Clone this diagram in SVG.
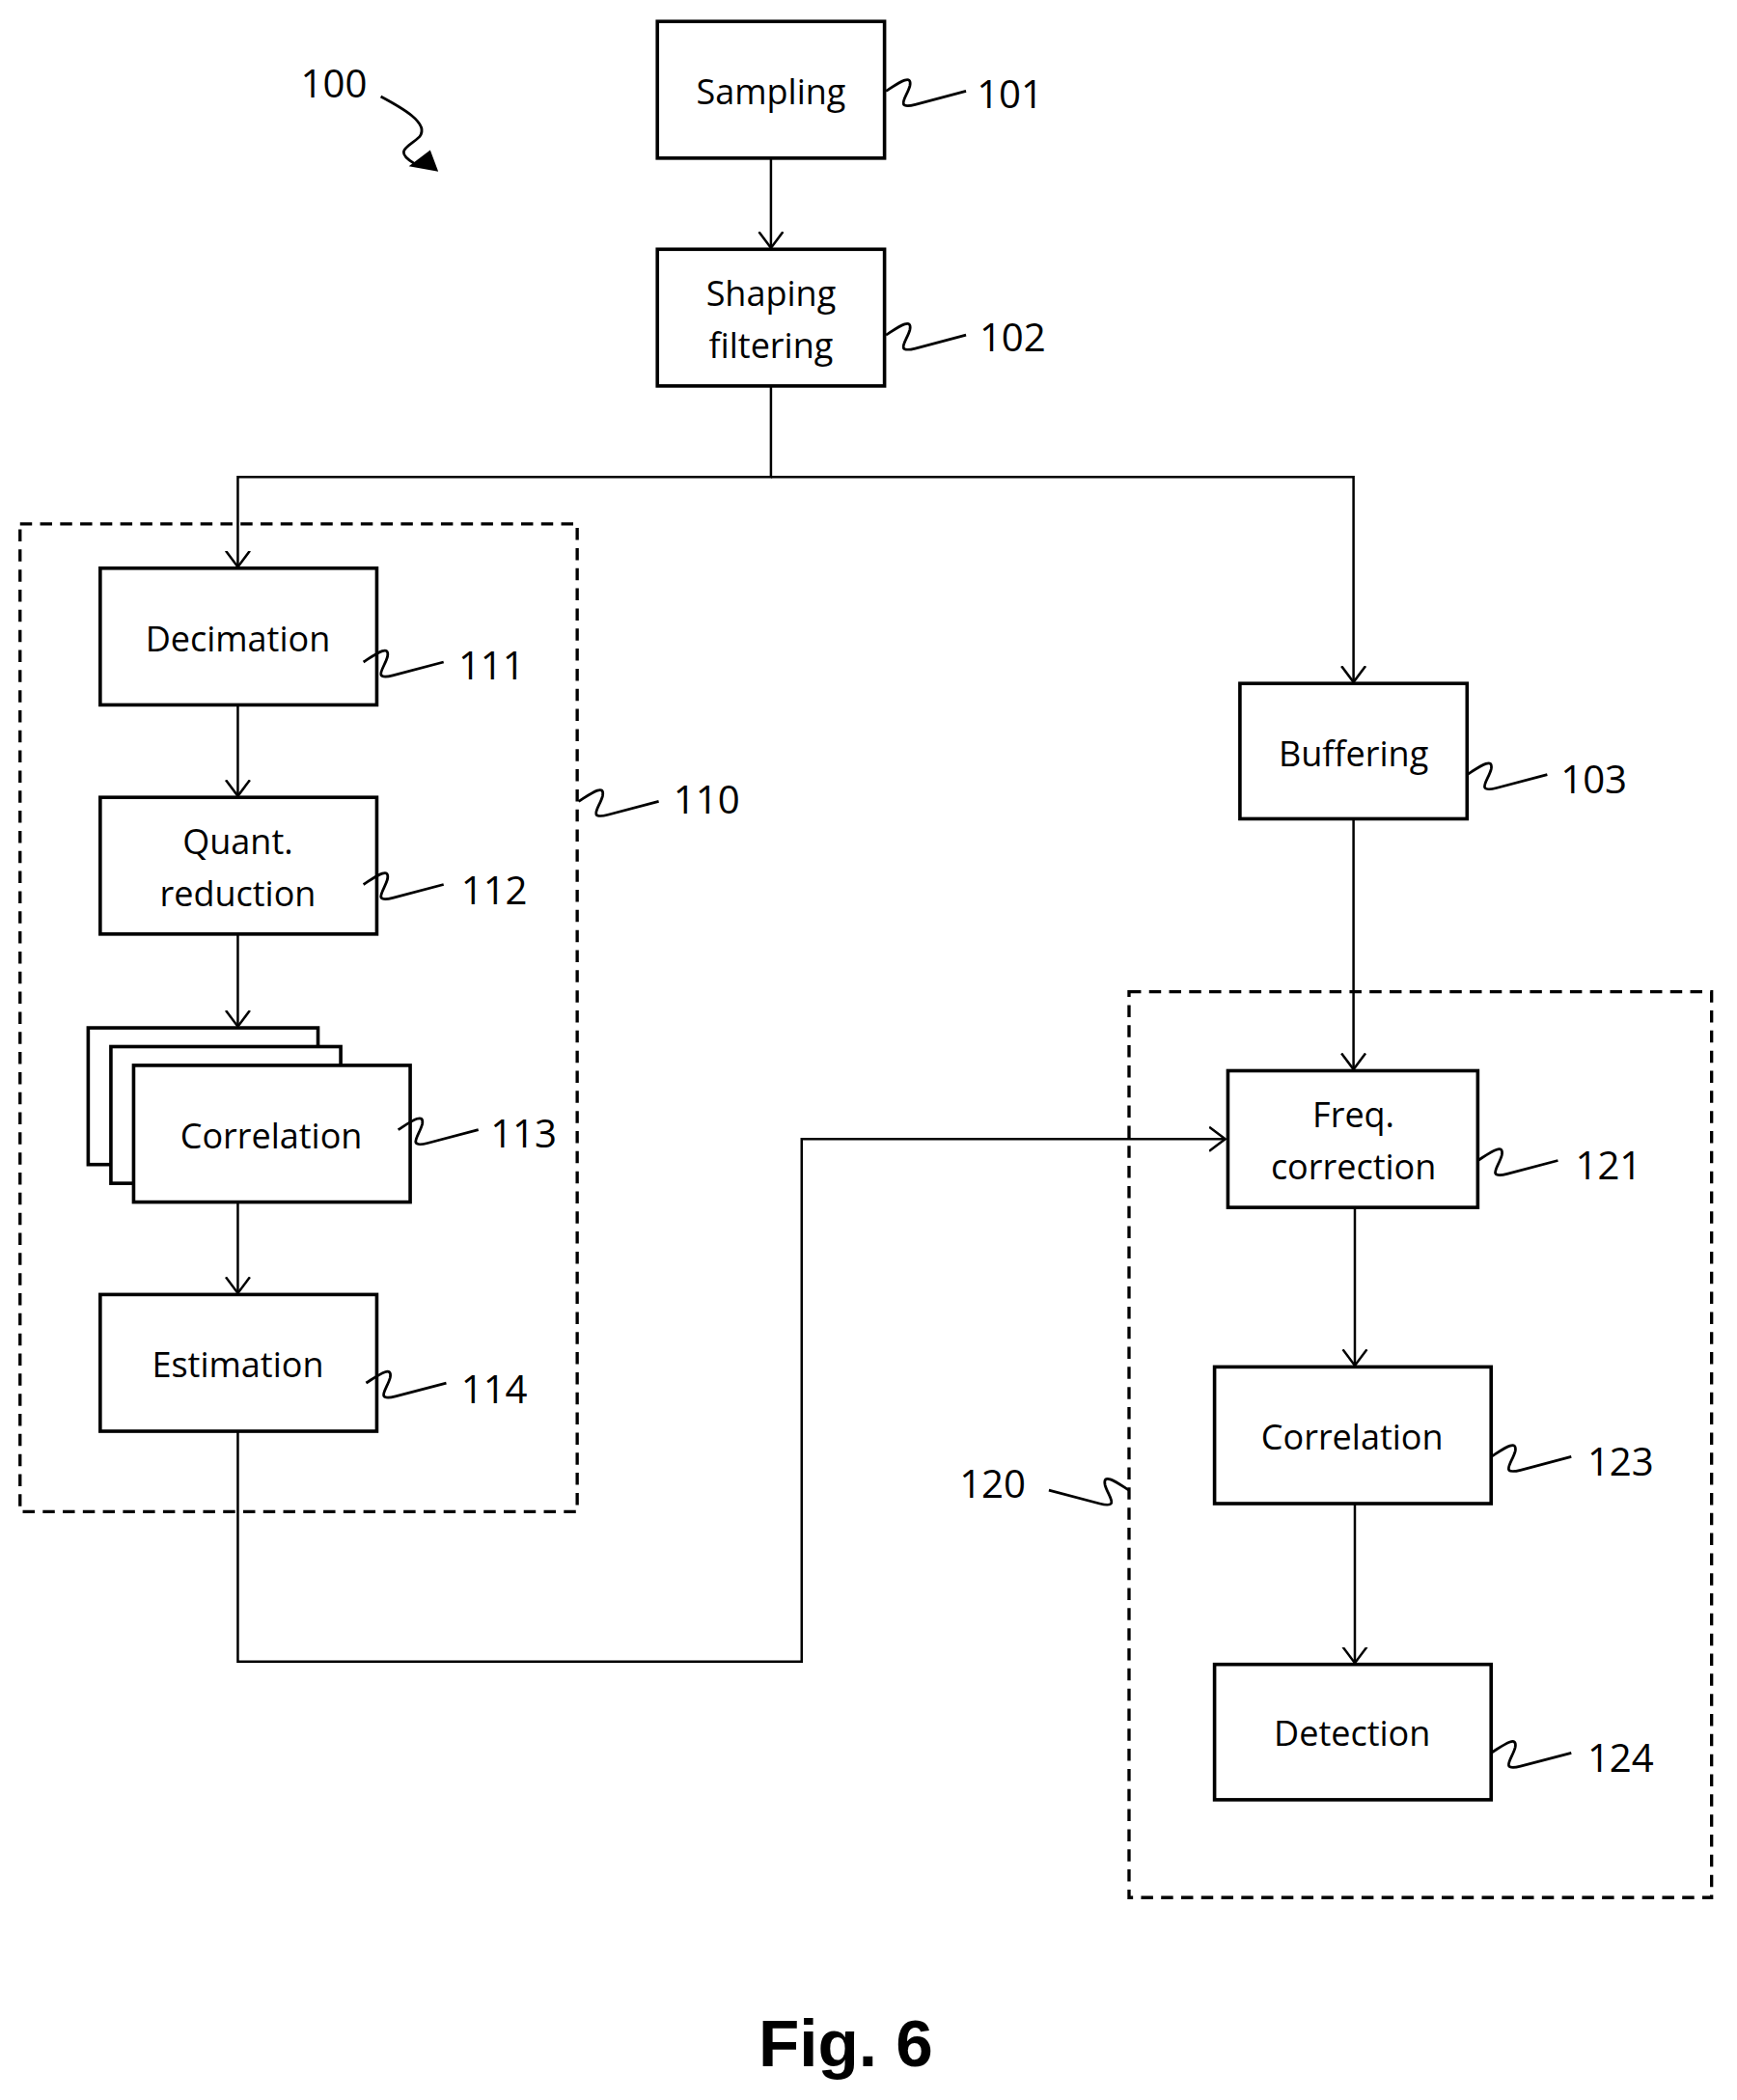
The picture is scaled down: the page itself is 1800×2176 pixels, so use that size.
<svg xmlns="http://www.w3.org/2000/svg" xmlns:xlink="http://www.w3.org/1999/xlink" width="1800" height="2176" viewBox="0 0 1800 2176">
<style>
.box{fill:#fff;stroke:#000;stroke-width:2.6}
.dash{fill:none;stroke:#000;stroke-width:2.4;stroke-dasharray:9 6}
.ln{fill:none;stroke:#000;stroke-width:1.8}
.wg{fill:none;stroke:#000;stroke-width:2}
.t{font-family:"Open Sans","Liberation Sans",sans-serif;font-size:26px;text-anchor:middle;fill:#000}
.n{font-family:"Open Sans","Liberation Sans",sans-serif;font-size:29px;fill:#000}
</style>
<defs>
<marker id="ah" markerWidth="14" markerHeight="20" refX="12" refY="10" orient="auto" markerUnits="userSpaceOnUse"><path d="M0,1 L12,10 L0,19" fill="none" stroke="#000" stroke-width="1.8"/></marker>
<path id="w" d="M0,0 C8,-5 20,-14 18,-4 C16,4 6,14 22,10 L60,0" class="wg"/>
</defs>
<rect width="1800" height="2176" fill="#fff"/>
<g transform="scale(1.3846,1.3886)">
<g id="connectors">
<line class="ln" x1="577" y1="118" x2="577" y2="185" marker-end="url(#ah)"/>
<polyline class="ln" points="577,288 577,356 178,356 178,423" marker-end="url(#ah)"/>
<polyline class="ln" points="577,356 1013,356 1013,509" marker-end="url(#ah)"/>
<line class="ln" x1="178" y1="526" x2="178" y2="594" marker-end="url(#ah)"/>
<line class="ln" x1="178" y1="697" x2="178" y2="766" marker-end="url(#ah)"/>
<line class="ln" x1="178" y1="897" x2="178" y2="965" marker-end="url(#ah)"/>
<polyline class="ln" points="178,1068 178,1240 600,1240 600,850 917,850" marker-end="url(#ah)"/>
<line class="ln" x1="1013" y1="611" x2="1013" y2="798" marker-end="url(#ah)"/>
<line class="ln" x1="1014" y1="901" x2="1014" y2="1019" marker-end="url(#ah)"/>
<line class="ln" x1="1014" y1="1122" x2="1014" y2="1241" marker-end="url(#ah)"/>
</g>
<g id="g100">
<text class="n" x="225" y="73">100</text>
<path class="wg" d="M285,72 C300,80 322,92 314,102 C306,110 294,112 310,122"/>
<path d="M306,124 L322,112 L328,128 Z" fill="#000"/>
</g>
<g id="grp110"><rect class="dash" x="15" y="391" width="417" height="737"/><use xlink:href="#w" x="433" y="598" transform="translate(433,598) scale(1,1) translate(-433,-598)"/><text class="n" x="504" y="607">110</text></g>
<g id="grp120"><rect class="dash" x="845" y="740" width="436" height="676"/><use xlink:href="#w" transform="translate(845,1112) scale(-1,1)"/><text class="n" x="718" y="1118">120</text></g>
<g id="n101"><rect class="box" x="492" y="16" width="170" height="102"/><text class="t" x="577" y="78">Sampling</text><use xlink:href="#w" transform="translate(663,68)"/><text class="n" x="731" y="81">101</text></g>
<g id="n102"><rect class="box" x="492" y="186" width="170" height="102"/><text class="t" x="577" y="228">Shaping</text><text class="t" x="577" y="267">filtering</text><use xlink:href="#w" transform="translate(663,250)"/><text class="n" x="733" y="262">102</text></g>
<g id="n111"><rect class="box" x="75" y="424" width="207" height="102"/><text class="t" x="178" y="486">Decimation</text><use xlink:href="#w" transform="translate(272,494)"/><text class="n" x="343" y="507">111</text></g>
<g id="n112"><rect class="box" x="75" y="595" width="207" height="102"/><text class="t" x="178" y="637">Quant.</text><text class="t" x="178" y="676">reduction</text><use xlink:href="#w" transform="translate(272,660)"/><text class="n" x="345" y="675">112</text></g>
<g id="n113"><rect class="box" x="66" y="767" width="172" height="102"/><rect class="box" x="83" y="781" width="172" height="102"/><rect class="box" x="100" y="795" width="207" height="102"/><text class="t" x="203" y="857">Correlation</text><use xlink:href="#w" transform="translate(298,843)"/><text class="n" x="367" y="856">113</text></g>
<g id="n114"><rect class="box" x="75" y="966" width="207" height="102"/><text class="t" x="178" y="1028">Estimation</text><use xlink:href="#w" transform="translate(274,1032)"/><text class="n" x="345" y="1047">114</text></g>
<g id="n103"><rect class="box" x="928" y="510" width="170" height="101"/><text class="t" x="1013" y="572">Buffering</text><use xlink:href="#w" transform="translate(1098,578)"/><text class="n" x="1168" y="592">103</text></g>
<g id="n121"><rect class="box" x="919" y="799" width="187" height="102"/><text class="t" x="1013" y="841">Freq.</text><text class="t" x="1013" y="880">correction</text><use xlink:href="#w" transform="translate(1106,866)"/><text class="n" x="1179" y="880">121</text></g>
<g id="n123"><rect class="box" x="909" y="1020" width="207" height="102"/><text class="t" x="1012" y="1082">Correlation</text><use xlink:href="#w" transform="translate(1116,1087)"/><text class="n" x="1188" y="1101">123</text></g>
<g id="n124"><rect class="box" x="909" y="1242" width="207" height="101"/><text class="t" x="1012" y="1303">Detection</text><use xlink:href="#w" transform="translate(1116,1308)"/><text class="n" x="1188" y="1322">124</text></g>
<text x="633" y="1542" font-family="Liberation Sans,Arial,sans-serif" font-size="50" font-weight="bold" text-anchor="middle">Fig. 6</text>
</g>
</svg>
